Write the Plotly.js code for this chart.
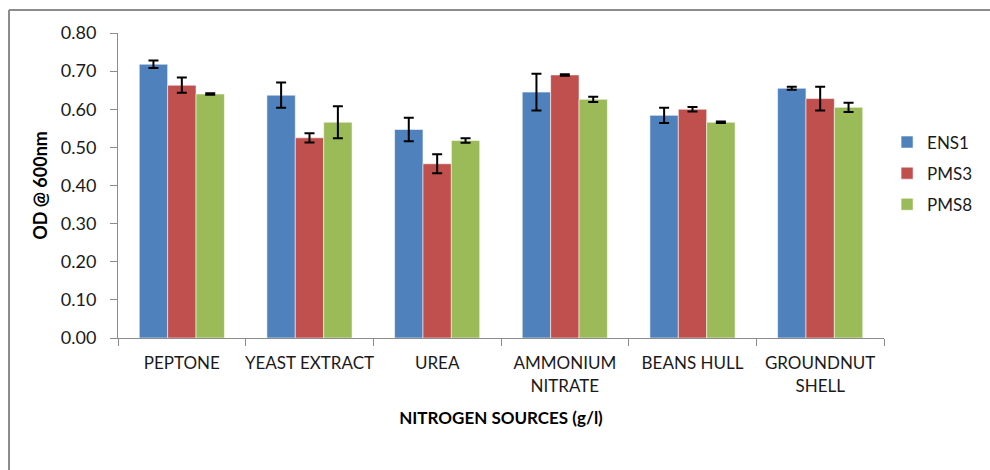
<!DOCTYPE html>
<html>
<head>
<meta charset="utf-8">
<script src="https://cdn.plot.ly/plotly-3.0.1.min.js"></script>
<style>
html, body { margin: 0; padding: 0; background: #ffffff; }
#chart { width: 990px; height: 470px; }
</style>
</head>
<body>
<div id="chart"></div>
<script>
var categories = ["PEPTONE", "YEAST EXTRACT", "UREA", "AMMONIUM<br>NITRATE", "BEANS HULL", "GROUNDNUT<br>SHELL"];
var seriesNames = ["ENS1", "PMS3", "PMS8"];
var ens1 = [0.718, 0.637, 0.547, 0.645, 0.584, 0.655];
var pms3 = [0.663, 0.525, 0.457, 0.690, 0.600, 0.628];
var pms8 = [0.640, 0.566, 0.518, 0.626, 0.566, 0.605];
var ens1Err = [0.010, 0.033, 0.031, 0.048, 0.020, 0.004];
var pms3Err = [0.020, 0.012, 0.025, 0.002, 0.006, 0.031];
var pms8Err = [0.002, 0.042, 0.006, 0.007, 0.002, 0.012];
var colors = ["#4F81BD", "#C0504D", "#9BBB59"];
var yTicks = [0, 0.1, 0.2, 0.3, 0.4, 0.5, 0.6, 0.7, 0.8];

var values = [ens1, pms3, pms8];
var errs = [ens1Err, pms3Err, pms8Err];
var FONT = "Lato, 'Open Sans', sans-serif";

var traces = seriesNames.map(function (name, i) {
  return {
    type: "bar",
    name: name,
    x: categories,
    y: values[i],
    legendgroup: name,
    marker: { color: colors[i], line: { color: "rgba(255,255,255,0.55)", width: 1 } },
    error_y: { type: "data", array: errs[i], visible: true, color: "#000000", thickness: 2, width: 5 }
  };
});

var layout = {
  width: 990,
  height: 470,
  margin: { l: 118, r: 99, t: 33, b: 132 },
  paper_bgcolor: "#ffffff",
  plot_bgcolor: "#ffffff",
  barmode: "group",
  bargap: 0.333,
  bargroupgap: 0,
  font: { family: FONT, size: 16, color: "#1a1a1a" },
  showlegend: true,
  legend: {
    x: 1.004, xanchor: "left",
    y: 0.70, yanchor: "top",
    font: { family: FONT, size: 17, color: "#1a1a1a" },
    traceorder: "grouped",
    tracegroupgap: 6,
    itemwidth: 30,
    bgcolor: "rgba(0,0,0,0)"
  },
  xaxis: {
    type: "category",
    showgrid: false,
    showline: true,
    linecolor: "#8c8c8c",
    linewidth: 1,
    ticks: "outside",
    tickson: "boundaries",
    ticklen: 7,
    tickcolor: "#8c8c8c",
    tickangle: 0,
    ticklabelstandoff: 10,
    tickfont: { family: FONT, size: 17, color: "#1a1a1a" },
    title: { text: "<b>NITROGEN SOURCES (g/l)</b>", font: { family: FONT, size: 17, color: "#000000" }, standoff: 17 },
    zeroline: false
  },
  yaxis: {
    range: [0, 0.8],
    tickvals: yTicks,
    tickformat: ".2f",
    showgrid: false,
    showline: true,
    linecolor: "#8c8c8c",
    linewidth: 1,
    ticks: "outside",
    ticklen: 7,
    tickcolor: "#8c8c8c",
    ticklabelstandoff: 10,
    tickfont: { family: FONT, size: 18, color: "#1a1a1a" },
    title: { text: "<b>OD @ 600nm</b>", font: { family: FONT, size: 18, color: "#000000" }, standoff: 8 },
    zeroline: false
  },
  shapes: [
    { type: "line", xref: "paper", yref: "paper", x0: -0.1423, x1: 1.2, y0: 1.0754, y1: 1.0754, line: { color: "#8c8c8c", width: 2 } },
    { type: "line", xref: "paper", yref: "paper", x0: -0.1423, x1: -0.1423, y0: 1.0754, y1: -0.5, line: { color: "#8c8c8c", width: 2 } }
  ]
};

Plotly.newPlot("chart", traces, layout, { displayModeBar: false, staticPlot: true });
</script>
</body>
</html>
